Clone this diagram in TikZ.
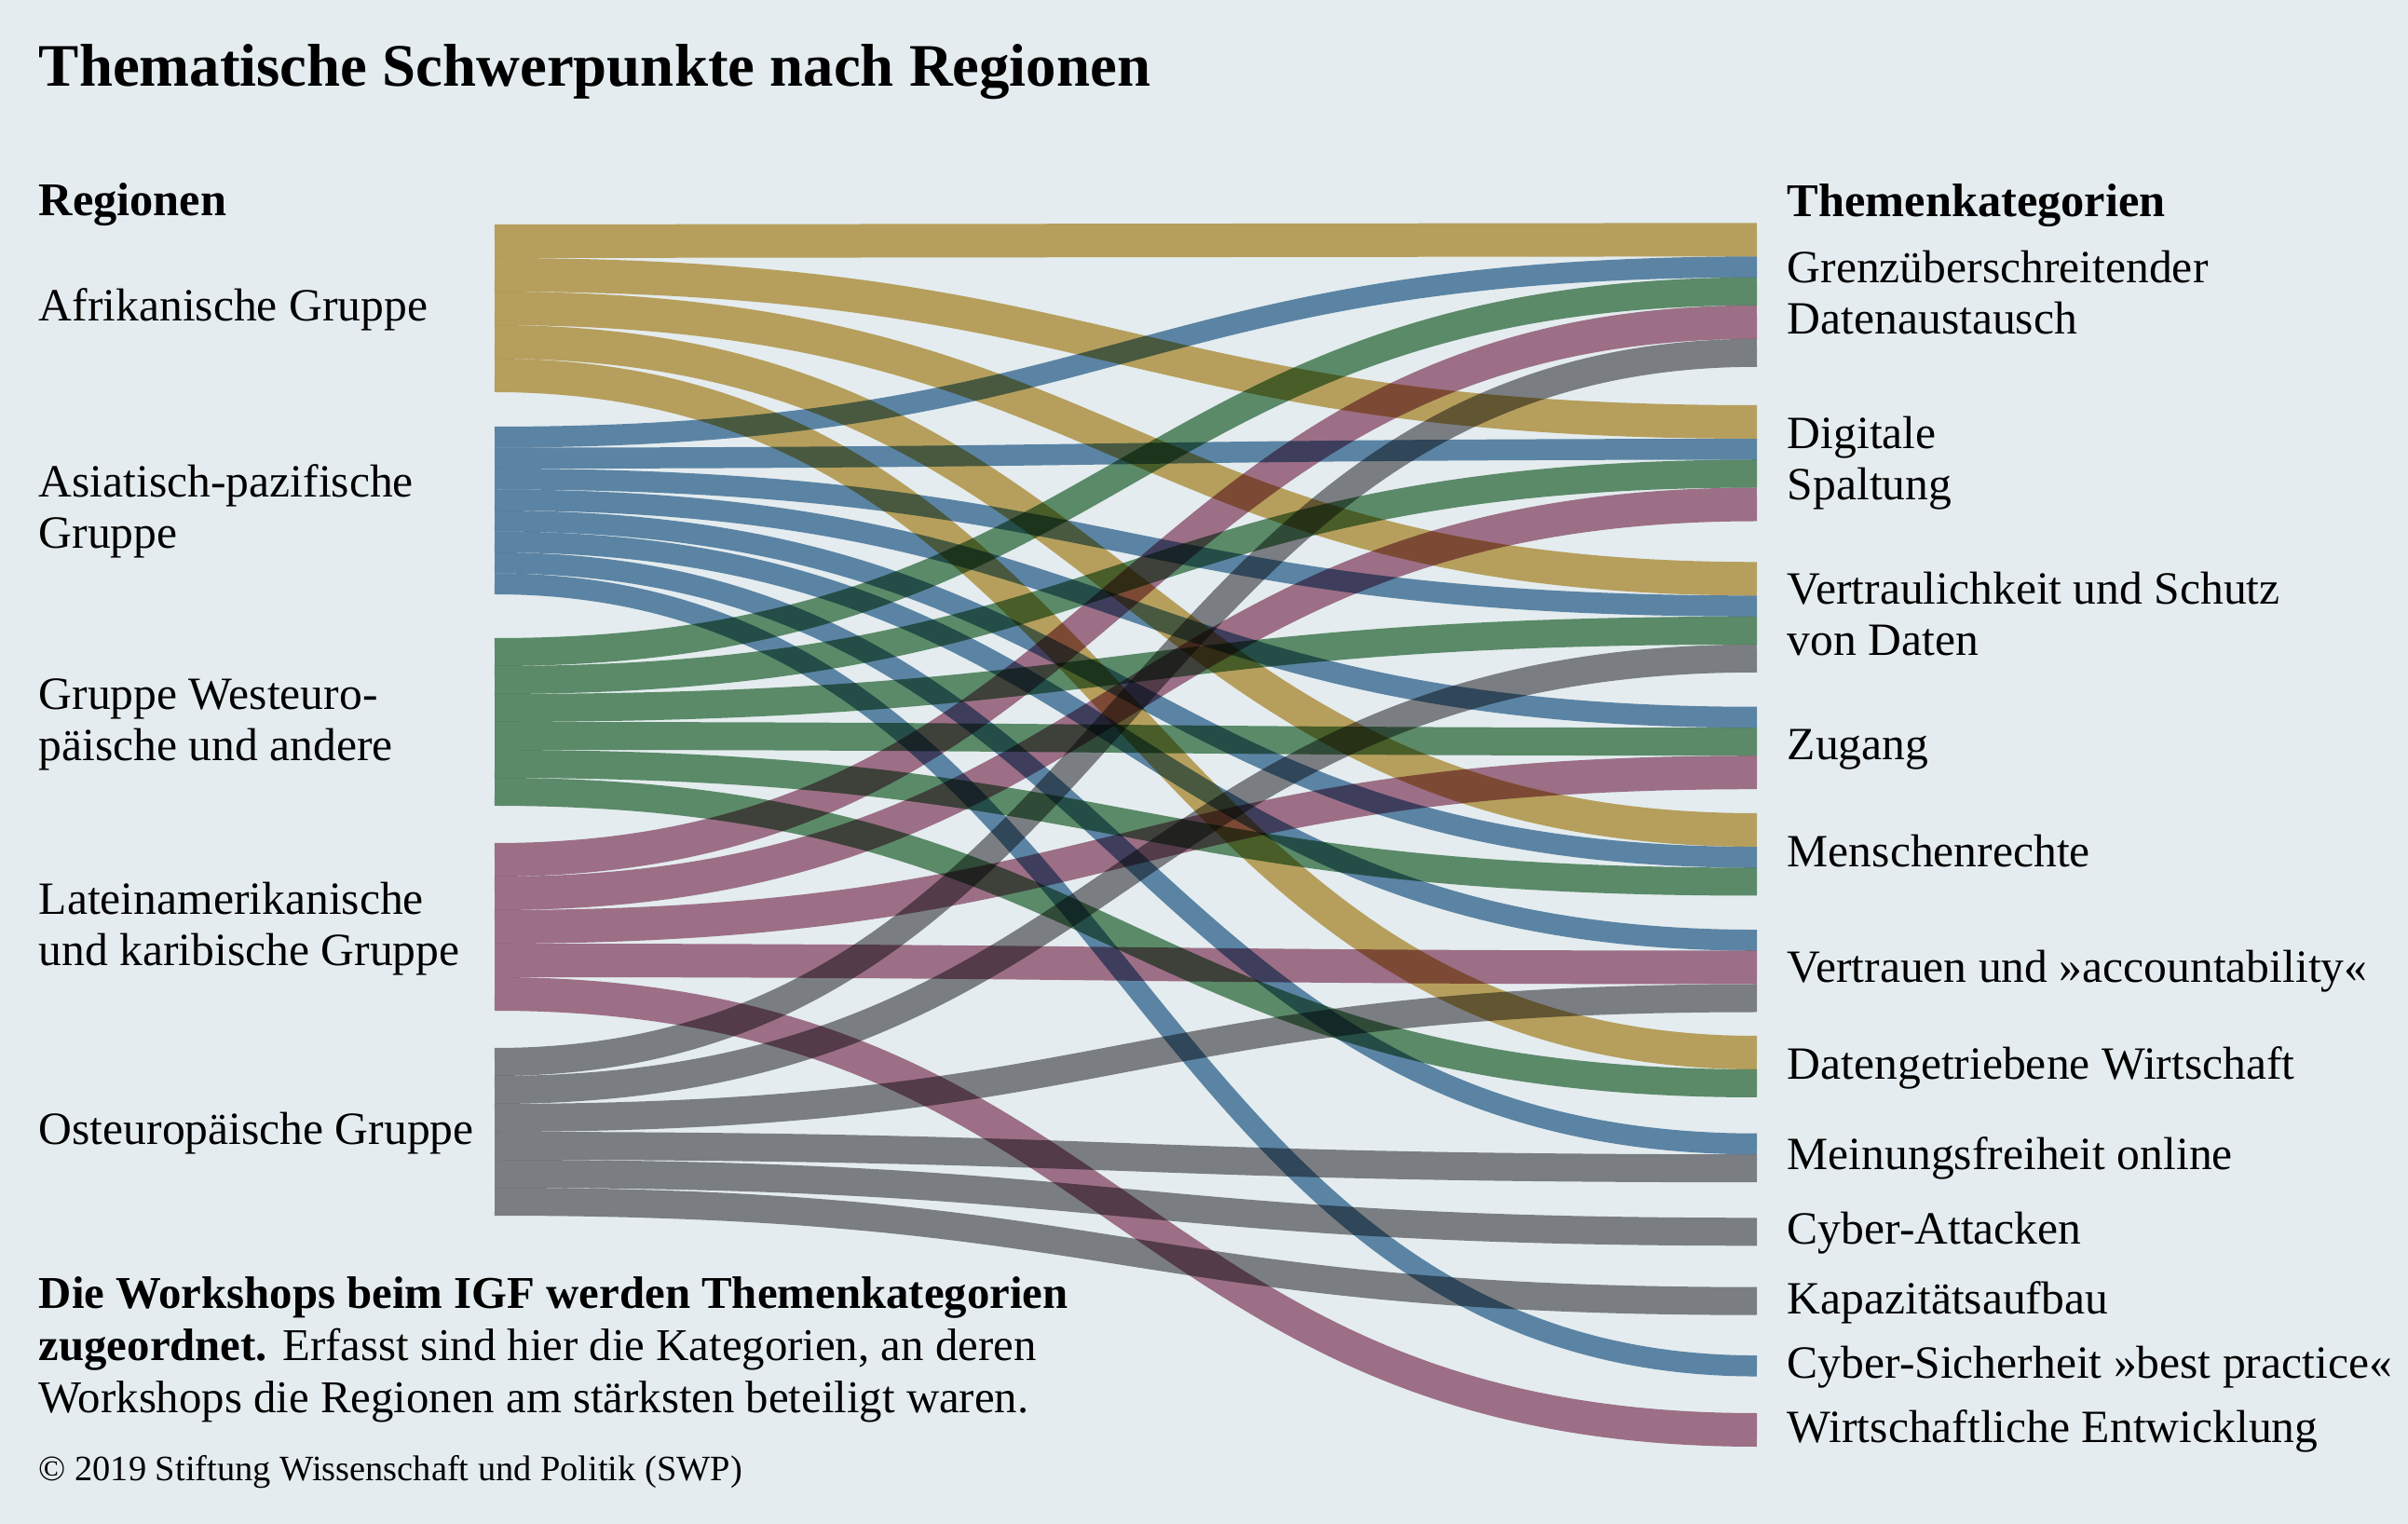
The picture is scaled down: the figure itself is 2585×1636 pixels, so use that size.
\documentclass[tikz,border=0pt]{standalone}
\usepackage{fontspec}
\setmainfont{Liberation Serif}
\usepackage{xcolor}
\definecolor{swpbg}{RGB}{228, 236, 239}
\definecolor{afrgold}{RGB}{204, 172, 100}
\definecolor{aspblue}{RGB}{102, 143, 176}
\definecolor{weoggreen}{RGB}{102, 150, 112}
\definecolor{grulacred}{RGB}{175, 120, 144}
\definecolor{eeggray}{RGB}{137, 137, 139}
\tikzset{
    lbl/.style={anchor=north west, inner sep=0pt, align=left, font=\fontsize{12.4}{13.75}\selectfont, execute at begin node=\strut},
    head/.style={lbl, font=\fontsize{12.6}{13.75}\selectfont\bfseries},
    flow/.style={line width=#1, blend mode=multiply},
    afr/.style={flow=9pt, draw=afrgold},
    asp/.style={flow=5.625pt, draw=aspblue},
    weog/.style={flow=7.5pt, draw=weoggreen},
    grulac/.style={flow=9pt, draw=grulacred},
    eeg/.style={flow=7.5pt, draw=eeggray},
}

\begin{document}
\begin{tikzpicture}[x=0.25pt, y=-0.25pt]
    \fill[swpbg] (0,0) rectangle (2585,1636);
    \node[lbl, font=\fontsize{16.2}{19.2}\selectfont\bfseries] (title) at (41,37.9) {Thematische Schwerpunkte nach Regionen};
    \node[head] (regionen) at (41,192.2) {Regionen};
    \node[head] (themen) at (1918,193.2) {Themenkategorien};

    \node[lbl] (afrlbl) at (41,305.5) {Afrikanische Gruppe};
    \node[lbl] (asplbl) at (41,497.5) {Asiatisch-pazifische\\Gruppe};
    \node[lbl] (weoglbl) at (41,728.2) {Gruppe Westeuro-\\päische und andere};
    \node[lbl] (grulaclbl) at (41,946.5) {Lateinamerikanische\\und karibische Gruppe};
    \node[lbl] (eeglbl) at (41,1189.5) {Osteuropäische Gruppe};

    \node[lbl] (grenzlbl) at (1918,268.2) {Grenzüberschreitender\\Datenaustausch};
    \node[lbl] (digitallbl) at (1918,446.5) {Digitale\\Spaltung};
    \node[lbl] (vertrlbl) at (1918,613.2) {Vertraulichkeit und Schutz\\von Daten};
    \node[lbl] (zuganglbl) at (1918,776.5) {Zugang};
    \node[lbl] (menschlbl) at (1918,890.8) {Menschenrechte};
    \node[lbl] (vertrauenlbl) at (1918,1015.5) {Vertrauen und »accountability«};
    \node[lbl] (datenlbl) at (1918,1118.8) {Datengetriebene Wirtschaft};
    \node[lbl] (meinunglbl) at (1918,1216) {Meinungsfreiheit online};
    \node[lbl] (attackelbl) at (1918,1295.8) {Cyber-Attacken};
    \node[lbl] (kapazlbl) at (1918,1371.5) {Kapazitätsaufbau};
    \node[lbl] (sicherlbl) at (1918,1440.5) {Cyber-Sicherheit »best practice«};
    \node[lbl] (wirtschaftlbl) at (1918,1509.5) {Wirtschaftliche Entwicklung};

    \node[lbl, font=\fontsize{12.2}{13.96}\selectfont] (note) at (41,1370) {{\bfseries Die Workshops beim IGF werden Themenkategorien}\\{\bfseries zugeordnet.} Erfasst sind hier die Kategorien, an deren\\Workshops die Regionen am stärksten beteiligt waren.};
    \node[lbl, font=\fontsize{9.6}{11.5}\selectfont] (copy) at (41,1556) {© 2019 Stiftung Wissenschaft und Politik (SWP)};

    \foreach \i in {1,...,5} \coordinate (afr\i) at (531,223+36*\i);
    \foreach \i in {1,...,8} \coordinate (asp\i) at (531,446.75+22.5*\i);
    \foreach \i in {1,...,6} \coordinate (weog\i) at (531,670+30*\i);
    \foreach \i in {1,...,5} \coordinate (grulac\i) at (531,887+36*\i);
    \foreach \i in {1,...,6} \coordinate (eeg\i) at (531,1110+30*\i);

    \coordinate (grenz-afr) at (1886,257.3);
    \coordinate (grenz-asp) at (1886,286.6);
    \coordinate (grenz-weog) at (1886,312.8);
    \coordinate (grenz-grulac) at (1886,345.8);
    \coordinate (grenz-eeg) at (1886,378.8);
    \coordinate (digital-afr) at (1886,453);
    \coordinate (digital-asp) at (1886,482.3);
    \coordinate (digital-weog) at (1886,508.5);
    \coordinate (digital-grulac) at (1886,541.5);
    \coordinate (vertr-afr) at (1886,621.3);
    \coordinate (vertr-asp) at (1886,650.6);
    \coordinate (vertr-weog) at (1886,676.8);
    \coordinate (vertr-eeg) at (1886,706.8);
    \coordinate (zugang-asp) at (1886,770);
    \coordinate (zugang-weog) at (1886,796.2);
    \coordinate (zugang-grulac) at (1886,829.2);
    \coordinate (mensch-afr) at (1886,891);
    \coordinate (mensch-asp) at (1886,920.3);
    \coordinate (mensch-weog) at (1886,946.5);
    \coordinate (vertrauen-asp) at (1886,1009.3);
    \coordinate (vertrauen-grulac) at (1886,1038.5);
    \coordinate (vertrauen-eeg) at (1886,1071.5);
    \coordinate (daten-afr) at (1886,1130);
    \coordinate (daten-weog) at (1886,1163);
    \coordinate (meinung-asp) at (1886,1228);
    \coordinate (meinung-eeg) at (1886,1254.2);
    \coordinate (attacke-eeg) at (1886,1322.3);
    \coordinate (kapaz-eeg) at (1886,1396.7);
    \coordinate (sicher-asp) at (1886,1466.3);
    \coordinate (wirtschaft-grulac) at (1886,1535);

    \foreach \t [count=\i] in {grenz,digital,vertr,mensch,daten}
        \draw[afr] (afr\i) .. controls +(677.5,0) and +(-677.5,0) .. (\t-afr);
    \foreach \t [count=\i] in {grenz,digital,vertr,zugang,mensch,vertrauen,meinung,sicher}
        \draw[asp] (asp\i) .. controls +(677.5,0) and +(-677.5,0) .. (\t-asp);
    \foreach \t [count=\i] in {grenz,digital,vertr,zugang,mensch,daten}
        \draw[weog] (weog\i) .. controls +(677.5,0) and +(-677.5,0) .. (\t-weog);
    \foreach \t [count=\i] in {grenz,digital,zugang,vertrauen,wirtschaft}
        \draw[grulac] (grulac\i) .. controls +(677.5,0) and +(-677.5,0) .. (\t-grulac);
    \foreach \t [count=\i] in {grenz,vertr,vertrauen,meinung,attacke,kapaz}
        \draw[eeg] (eeg\i) .. controls +(677.5,0) and +(-677.5,0) .. (\t-eeg);
\end{tikzpicture}
\end{document}
